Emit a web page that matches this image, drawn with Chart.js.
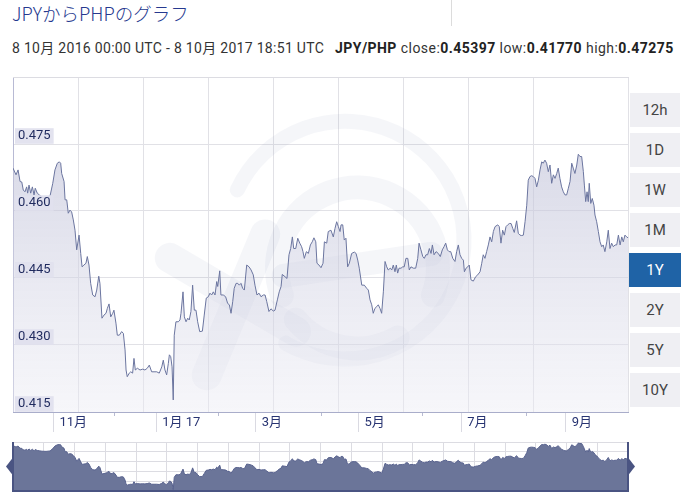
<!DOCTYPE html>
<html>
<head>
<meta charset="utf-8">
<script src="https://cdn.jsdelivr.net/npm/chart.js@4.4.0/dist/chart.umd.min.js"></script>
<style>
  body { margin: 0; width: 686px; height: 496px; background: #fff; position: relative; overflow: hidden;
         font-family: Roboto, "Noto Sans CJK JP", sans-serif; }
  #title { position: absolute; left: 12px; top: 0; font-size: 18.5px; font-weight: 300; color: #26398f;
           font-family: "Noto Sans CJK JP", sans-serif; }
  #sep { position: absolute; left: 451px; top: 0; width: 1px; height: 26px; background: #dcdcdc; }
  #sub { position: absolute; left: 12px; top: 37px; font-size: 14px; color: #333; white-space: nowrap; }
  #sub .d { letter-spacing: 0.3px; }
  #sub .q { letter-spacing: 0.45px; margin-left: 4px; }
  #sub b { color: #222; }
  .btn { position: absolute; left: 630px; width: 50px; height: 34px; line-height: 34px; text-align: center;
         background: #efeff3; color: #444; font-size: 15px; }
  .btn.on { left: 629px; width: 52px; background: #1f63a6; color: #fff; }
  canvas { position: absolute; left: 0; }
</style>
</head>
<body>
<div id="title">JPYからPHPのグラフ</div>
<div id="sep"></div>
<div id="sub"><span class="d">8 10月 2016 00:00 UTC - 8 10月 2017 18:51 UTC</span> &nbsp;<span class="q"><b>JPY/PHP</b> close:<b>0.45397</b> low:<b>0.41770</b> high:<b>0.47275</b></span></div>
<div id="buttons"></div>
<canvas id="main" width="686" height="496" style="top:0"></canvas>
<canvas id="nav" width="686" height="60" style="top:436px"></canvas>
<script>
// days since 8 Oct 2016
const days = [
  0, 1.8, 3.0, 4.2, 5.2, 6.1, 7.1, 8.1, 8.7, 9.5,
  10.5, 11.5, 12.5, 13.2, 14.4, 15.6, 17.2, 19.6, 22.0, 23.6,
  24.9, 26.3, 27.5, 28.3, 28.9, 30.3, 30.9, 31.9, 32.8, 33.8,
  34.8, 35.8, 36.8, 37.8, 39.2, 40.2, 41.0, 42.1, 43.3, 44.1,
  45.1, 46.1, 47.3, 48.7, 49.7, 50.9, 51.6, 52.8, 54.0, 55.2,
  56.0, 57.0, 58.0, 59.2, 59.9, 61.1, 61.9, 63.1, 64.5, 65.5,
  66.5, 67.1, 67.8, 69.0, 69.9, 71.0, 71.8, 72.6, 73.8, 75.4,
  77.0, 78.3, 79.7, 80.9, 82.3, 83.7, 85.3, 86.8, 88.3, 89.2,
  90.2, 91.2, 92.2, 92.8, 93.6, 94.4, 95.1, 95.7, 96.7, 98.1,
  99.1, 99.7, 100.9, 101.7, 102.7, 103.7, 104.6, 105.6, 106.6, 107.6,
  108.6, 109.6, 110.8, 112.4, 113.5, 114.7, 115.9, 116.9, 117.9, 118.9,
  119.9, 120.9, 121.5, 122.7, 123.4, 124.8, 126.2, 127.4, 128.4, 129.4,
  130.4, 131.3, 132.4, 133.4, 134.3, 135.3, 136.3, 137.3, 138.7, 140.1,
  141.3, 142.6, 143.6, 144.8, 146.0, 147.2, 148.6, 149.6, 150.6, 151.9,
  153.1, 154.5, 155.5, 156.9, 158.0, 159.1, 159.8, 161.4, 162.6, 163.8,
  164.8, 165.8, 166.6, 167.8, 169.0, 170.2, 171.3, 172.1, 172.9, 174.1,
  175.3, 176.5, 177.6, 178.6, 179.7, 180.4, 181.6, 182.8, 184.0, 184.8,
  186.2, 187.1, 188.7, 190.1, 191.1, 192.1, 193.1, 194.1, 194.7, 195.7,
  196.6, 197.6, 198.6, 199.6, 201.0, 202.6, 203.6, 204.6, 205.5, 207.0,
  208.5, 209.9, 210.9, 211.9, 212.9, 213.8, 214.8, 215.9, 216.8, 217.8,
  218.8, 219.8, 220.8, 221.8, 222.7, 223.9, 224.8, 225.7, 226.7, 227.5,
  228.3, 229.1, 230.3, 231.3, 232.2, 233.2, 234.3, 235.2, 236.2, 237.6,
  239.0, 240.2, 241.0, 242.1, 243.2, 244.1, 245.1, 246.1, 247.1, 248.1,
  248.9, 249.9, 251.1, 252.4, 253.6, 254.8, 255.8, 256.8, 257.8, 258.8,
  259.8, 261.0, 262.3, 263.3, 264.3, 265.3, 266.3, 267.3, 267.9, 268.9,
  269.9, 270.8, 271.8, 273.2, 274.6, 275.8, 277.2, 278.2, 279.1, 280.1,
  281.1, 282.1, 283.1, 284.1, 285.1, 286.1, 287.7, 288.6, 289.6, 290.6,
  291.6, 292.6, 293.6, 294.6, 295.6, 296.6, 297.5, 298.9, 299.9, 300.9,
  301.9, 302.9, 303.9, 304.9, 305.8, 306.8, 307.8, 308.8, 309.8, 310.8,
  311.8, 312.8, 313.8, 314.7, 315.7, 316.7, 317.7, 318.7, 319.7, 320.7,
  321.7, 322.7, 323.6, 324.6, 325.6, 326.6, 327.6, 328.6, 329.6, 330.6,
  331.6, 332.5, 333.5, 334.6, 335.5, 336.5, 337.5, 338.5, 339.1, 339.9,
  340.7, 341.4, 342.0, 342.9, 343.8, 344.8, 345.4, 346.4, 347.4, 348.4,
  349.4, 350.3, 351.3, 352.4, 353.3, 354.3, 355.3, 356.3, 357.3, 358.3,
  359.3, 360.3, 361.3, 362.2, 363.2, 364.2, 365
];

// JPY/PHP rate
const rates = [
  0.4696, 0.4681, 0.4692, 0.4666, 0.4665, 0.4647, 0.4643, 0.4654, 0.4640, 0.4658,
  0.4640, 0.4654, 0.4636, 0.4651, 0.4640, 0.4636, 0.4631, 0.4629, 0.4634, 0.4662,
  0.4692, 0.4707, 0.4710, 0.4707, 0.4684, 0.4666, 0.4625, 0.4625, 0.4595, 0.4602,
  0.4598, 0.4580, 0.4557, 0.4513, 0.4546, 0.4505, 0.4475, 0.4479, 0.4483, 0.4498,
  0.4479, 0.4438, 0.4412, 0.4408, 0.4423, 0.4454, 0.4438, 0.4360, 0.4367, 0.4371,
  0.4382, 0.4392, 0.4363, 0.4371, 0.4378, 0.4349, 0.4322, 0.4322, 0.4330, 0.4326,
  0.4289, 0.4244, 0.4229, 0.4237, 0.4240, 0.4237, 0.4270, 0.4244, 0.4248, 0.4244,
  0.4246, 0.4244, 0.4248, 0.4255, 0.4240, 0.4240, 0.4240, 0.4237, 0.4251, 0.4266,
  0.4244, 0.4233, 0.4259, 0.4278, 0.4274, 0.4251, 0.4177, 0.4322, 0.4352, 0.4352,
  0.4356, 0.4371, 0.4419, 0.4363, 0.4352, 0.4360, 0.4356, 0.4375, 0.4434, 0.4378,
  0.4378, 0.4352, 0.4330, 0.4331, 0.4367, 0.4405, 0.4408, 0.4416, 0.4412, 0.4419,
  0.4412, 0.4442, 0.4431, 0.4466, 0.4412, 0.4412, 0.4408, 0.4393, 0.4390, 0.4371,
  0.4397, 0.4427, 0.4438, 0.4438, 0.4434, 0.4438, 0.4427, 0.4423, 0.4479, 0.4475,
  0.4468, 0.4457, 0.4434, 0.4412, 0.4416, 0.4408, 0.4412, 0.4412, 0.4397, 0.4375,
  0.4381, 0.4376, 0.4378, 0.4401, 0.4419, 0.4431, 0.4458, 0.4453, 0.4449, 0.4502,
  0.4516, 0.4542, 0.4516, 0.4516, 0.4539, 0.4528, 0.4520, 0.4509, 0.4494, 0.4509,
  0.4505, 0.4524, 0.4531, 0.4540, 0.4531, 0.4483, 0.4479, 0.4473, 0.4483, 0.4531,
  0.4528, 0.4554, 0.4557, 0.4542, 0.4561, 0.4576, 0.4565, 0.4554, 0.4569, 0.4569,
  0.4535, 0.4539, 0.4475, 0.4483, 0.4505, 0.4508, 0.4505, 0.4490, 0.4472, 0.4434,
  0.4434, 0.4427, 0.4423, 0.4401, 0.4390, 0.4371, 0.4382, 0.4386, 0.4390, 0.4382,
  0.4371, 0.4419, 0.4487, 0.4475, 0.4468, 0.4472, 0.4468, 0.4479, 0.4464, 0.4479,
  0.4461, 0.4472, 0.4472, 0.4475, 0.4475, 0.4494, 0.4494, 0.4468, 0.4475, 0.4472,
  0.4472, 0.4494, 0.4528, 0.4513, 0.4498, 0.4494, 0.4502, 0.4502, 0.4516, 0.4505,
  0.4524, 0.4502, 0.4509, 0.4505, 0.4498, 0.4513, 0.4520, 0.4528, 0.4513, 0.4509,
  0.4509, 0.4494, 0.4487, 0.4509, 0.4524, 0.4502, 0.4494, 0.4490, 0.4464, 0.4472,
  0.4475, 0.4479, 0.4446, 0.4443, 0.4453, 0.4457, 0.4464, 0.4483, 0.4502, 0.4494,
  0.4509, 0.4524, 0.4542, 0.4531, 0.4554, 0.4565, 0.4569, 0.4565, 0.4528, 0.4557,
  0.4546, 0.4565, 0.4569, 0.4572, 0.4572, 0.4561, 0.4552, 0.4578, 0.4550, 0.4546,
  0.4545, 0.4546, 0.4576, 0.4613, 0.4669, 0.4677, 0.4679, 0.4677, 0.4673, 0.4654,
  0.4669, 0.4692, 0.4710, 0.4707, 0.4714, 0.4707, 0.4688, 0.4703, 0.4662, 0.4681,
  0.4673, 0.4684, 0.4696, 0.4673, 0.4654, 0.4643, 0.4636, 0.4636, 0.4651, 0.4666,
  0.4707, 0.4696, 0.4684, 0.4703, 0.4727, 0.4722, 0.4722, 0.4688, 0.4658, 0.4621,
  0.4643, 0.4621, 0.4662, 0.4617, 0.4628, 0.4613, 0.4591, 0.4576, 0.4554, 0.4531,
  0.4520, 0.4524, 0.4509, 0.4531, 0.4557, 0.4516, 0.4528, 0.4520, 0.4524, 0.4524,
  0.4546, 0.4524, 0.4542, 0.4531, 0.4546, 0.4542, 0.4540
];

const yTicks = [0.415, 0.430, 0.445, 0.460, 0.475];
const monthDays = [24, 85, 144, 205, 266, 328];
const monthLabels = ['11月', '1月 17', '3月', '5月', '7月', '9月'];
const minorDays = [60, 122, 183, 243, 305];
const ranges = ['12h', '1D', '1W', '1M', '1Y', '2Y', '5Y', '10Y'];
const activeRange = '1Y';

// range buttons on the right
const box = document.getElementById('buttons');
ranges.forEach((r, i) => {
  const b = document.createElement('div');
  b.className = 'btn' + (r === activeRange ? ' on' : '');
  b.style.top = (93 + i * 40) + 'px';
  b.textContent = r;
  box.appendChild(b);
});

Chart.defaults.font.family = "Roboto, 'Noto Sans CJK JP', sans-serif";

const points = days.map((d, i) => ({ x: d, y: rates[i] }));
const noWidth = s => { s.width = 0; };
const noHeight = s => { s.height = 0; };

// faint xe logo behind the line
const watermark = {
  id: 'watermark',
  beforeDatasetsDraw(chart) {
    const { ctx, chartArea: a } = chart;
    const w = a.right - a.left, h = a.bottom - a.top;
    const rad = deg => deg * Math.PI / 180;
    ctx.save();
    ctx.beginPath();
    ctx.rect(a.left, a.top, w, h);
    ctx.clip();
    ctx.strokeStyle = 'rgba(120,122,165,0.07)';
    ctx.lineCap = 'round';
    // outer ring
    ctx.lineWidth = 15;
    ctx.beginPath();
    ctx.arc(a.left + w * 0.54, a.top + h * 0.487, h * 0.355, rad(205), rad(120));
    ctx.stroke();
    // the "e"
    const ex = a.left + w * 0.56, ey = a.top + h * 0.57;
    ctx.lineWidth = 24;
    ctx.beginPath();
    ctx.arc(ex, ey, h * 0.24, rad(160), rad(20));
    ctx.stroke();
    ctx.beginPath();
    ctx.arc(ex, ey, h * 0.24, rad(60), rad(140));
    ctx.stroke();
    ctx.beginPath();
    ctx.moveTo(ex - h * 0.22, ey + 8);
    ctx.lineTo(ex + h * 0.22, ey - 14);
    ctx.stroke();
    // the "x"
    ctx.lineWidth = 30;
    ctx.beginPath();
    ctx.moveTo(a.left + w * 0.41, a.top + h * 0.47);
    ctx.lineTo(a.left + w * 0.315, a.top + h * 0.89);
    ctx.stroke();
    ctx.beginPath();
    ctx.moveTo(a.left + w * 0.255, a.top + h * 0.54);
    ctx.lineTo(a.left + w * 0.46, a.top + h * 0.76);
    ctx.stroke();
    ctx.restore();
  }
};

new Chart(document.getElementById('main'), {
  type: 'line',
  data: {
    datasets: [{
      data: points,
      borderColor: '#6b759f',
      borderWidth: 1,
      pointRadius: 0,
      tension: 0,
      fill: 'start',
      backgroundColor: ctx => {
        const a = ctx.chart.chartArea;
        if (!a) return 'rgba(200,202,222,0.6)';
        const g = ctx.chart.ctx.createLinearGradient(0, a.top, 0, a.bottom);
        g.addColorStop(0, 'rgba(176,178,206,0.62)');
        g.addColorStop(1, 'rgba(236,236,244,0.45)');
        return g;
      }
    }]
  },
  options: {
    responsive: false,
    animation: false,
    events: [],
    layout: { padding: { left: 13, top: 77, right: 58, bottom: 64 } },
    plugins: { legend: { display: false }, tooltip: { enabled: false } },
    scales: {
      y: {
        type: 'linear', min: 0.415, max: 0.490,
        afterFit: noWidth,
        afterBuildTicks: s => { s.ticks = yTicks.map(v => ({ value: v })); },
        grid: { color: '#e1e1e6', drawTicks: false },
        border: { color: '#b8bad4' },
        ticks: {
          z: 1,
          mirror: true, padding: 5, labelOffset: -8,
          showLabelBackdrop: true,
          backdropColor: 'rgba(225,225,238,0.92)',
          backdropPadding: { left: 3, right: 3, top: 0, bottom: 0 },
          color: '#1f2a5e', font: { size: 13 },
          callback: v => v.toFixed(3)
        }
      },
      x: {
        type: 'linear', min: 0, max: 365,
        afterFit: s => { s.height = 20; },
        afterBuildTicks: s => { s.ticks = monthDays.map(v => ({ value: v })); },
        grid: { drawOnChartArea: false, tickLength: 20, tickColor: '#dadae2' },
        border: { color: '#a9adca' },
        ticks: {
          align: 'start', padding: -17, labelOffset: 6, maxRotation: 0, autoSkip: false,
          color: '#283472', font: { size: 13 },
          callback: (v, i) => monthLabels[i]
        }
      },
      xMinor: {
        type: 'linear', position: 'bottom', weight: -1, min: 0, max: 365,
        afterFit: noHeight,
        afterBuildTicks: s => { s.ticks = minorDays.map(v => ({ value: v })); },
        grid: { drawOnChartArea: false, tickLength: 4, tickColor: '#b8bbd2' },
        border: { display: false },
        ticks: { display: false }
      },
      xGrid: {
        type: 'linear', position: 'top', min: 0, max: 615 / 65,
        afterFit: noHeight,
        grid: { color: '#e1e1e6', drawTicks: false },
        border: { color: '#dcdce2' },
        ticks: { display: false, stepSize: 1 }
      }
    }
  },
  plugins: [watermark]
});

// navigator frame and handles
const navFrame = {
  id: 'navFrame',
  afterDraw(chart) {
    const { ctx, chartArea: a } = chart;
    const mid = (a.top + a.bottom) / 2;
    ctx.save();
    ctx.strokeStyle = '#4a5482';
    ctx.fillStyle = '#4a5482';
    ctx.lineWidth = 2;
    ctx.beginPath();
    ctx.moveTo(a.left, a.top);
    ctx.lineTo(a.left, a.bottom);
    ctx.lineTo(a.right, a.bottom);
    ctx.lineTo(a.right, a.top);
    ctx.stroke();
    [[a.left, -1], [a.right, 1]].forEach(([x, dir]) => {
      ctx.beginPath();
      ctx.moveTo(x, mid - 9);
      ctx.lineTo(x + dir * 7, mid);
      ctx.lineTo(x, mid + 9);
      ctx.closePath();
      ctx.fill();
    });
    ctx.restore();
  }
};

new Chart(document.getElementById('nav'), {
  type: 'line',
  data: {
    datasets: [{
      data: points,
      borderColor: '#58628e',
      borderWidth: 1,
      pointRadius: 0,
      tension: 0,
      fill: 'start',
      backgroundColor: '#6b7599'
    }]
  },
  options: {
    responsive: false,
    animation: false,
    events: [],
    layout: { padding: { left: 13, top: 6, right: 58, bottom: 5 } },
    plugins: { legend: { display: false }, tooltip: { enabled: false } },
    scales: {
      x: { type: 'linear', min: 0, max: 365, display: false },
      y: {
        type: 'linear', min: 0.416, max: 0.474,
        afterFit: noWidth,
        grid: { color: '#dcdce2', drawTicks: false },
        border: { display: false },
        ticks: { display: false, count: 6 }
      },
      xGrid: {
        type: 'linear', position: 'bottom', min: 0, max: 20,
        afterFit: noHeight,
        grid: { color: '#dcdce2', drawTicks: false },
        border: { display: false },
        ticks: { display: false, stepSize: 1 }
      }
    }
  },
  plugins: [navFrame]
});
</script>
</body>
</html>
